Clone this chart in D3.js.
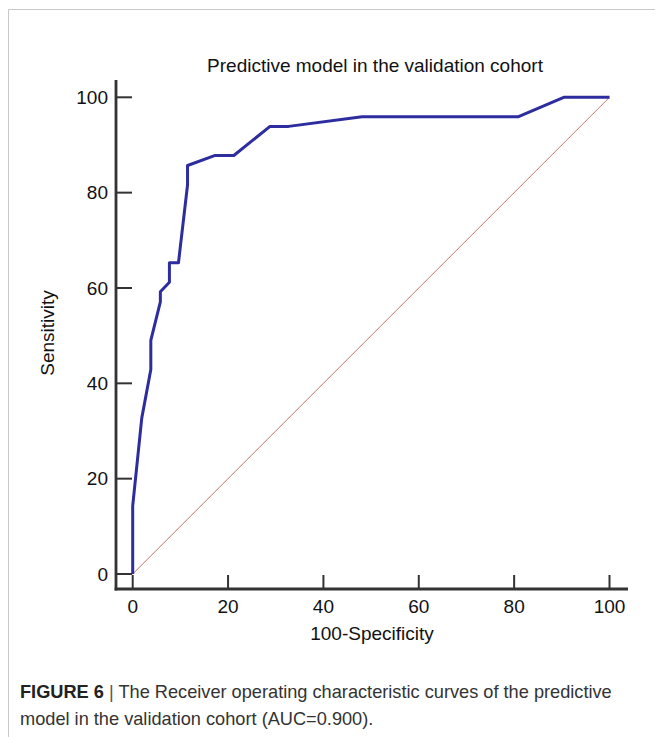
<!DOCTYPE html>
<html>
<head>
<meta charset="utf-8">
<script src="https://cdn.jsdelivr.net/npm/d3@7"></script>
<style>
  body { margin: 0; background: #fff; }
  svg { display: block; font-family: "Liberation Sans", Arial, sans-serif; }
</style>
</head>
<body>
<div class="chart"></div>
<script>
// ROC points (100-specificity, sensitivity)
const fpr = [0, 0, 1.9, 3.8, 3.8, 5.8, 5.8, 7.7, 7.7, 9.6, 11.5, 11.5, 17.3, 21.2, 28.8, 32.7, 48.1, 80.8, 90.4, 100];
const tpr = [0, 14.3, 32.7, 42.9, 49.0, 57.1, 59.2, 61.2, 65.3, 65.3, 81.6, 85.7, 87.8, 87.8, 93.9, 93.9, 95.9, 95.9, 100, 100];
const xTicks = [0, 20, 40, 60, 80, 100];
const yTicks = [0, 20, 40, 60, 80, 100];
const chartTitle = 'Predictive model in the validation cohort';
const xLabel = '100-Specificity';
const yLabel = 'Sensitivity';

const width = 655, height = 737;
const fontSize = 19;

const svg = d3.select('.chart').append('svg')
    .attr('width', width)
    .attr('height', height);

// figure frame (top + left rule)
svg.append('path')
    .attr('d', `M8.5,${height} V9.5 H${width}`)
    .attr('fill', 'none')
    .attr('stroke', '#c8c8c8')
    .attr('stroke-width', 1);

const x = d3.scaleLinear().domain([0, 100]).range([132.7, 609.5]);
const y = d3.scaleLinear().domain([0, 100]).range([574, 97.3]);

const axisX = 116, axisY = 589;
const axisColor = '#333';

// axis lines
svg.append('line')
    .attr('x1', axisX).attr('x2', axisX)
    .attr('y1', 80).attr('y2', axisY + 1.4)
    .attr('stroke', axisColor).attr('stroke-width', 2.8);
svg.append('line')
    .attr('x1', axisX - 1.4).attr('x2', 628)
    .attr('y1', axisY).attr('y2', axisY)
    .attr('stroke', axisColor).attr('stroke-width', 2.8);

// y ticks point inward
const yAxis = svg.append('g');
yAxis.selectAll('line')
    .data(yTicks)
    .enter()
    .append('line')
    .attr('x1', axisX).attr('x2', axisX + 16)
    .attr('y1', d => y(d)).attr('y2', d => y(d))
    .attr('stroke', axisColor).attr('stroke-width', 2);
yAxis.selectAll('text')
    .data(yTicks)
    .enter()
    .append('text')
    .attr('x', axisX - 8)
    .attr('y', d => y(d))
    .attr('dy', '0.35em')
    .attr('text-anchor', 'end')
    .attr('font-size', fontSize)
    .attr('fill', '#111')
    .text(d => d);

// x ticks point inward
const xAxis = svg.append('g');
xAxis.selectAll('line')
    .data(xTicks)
    .enter()
    .append('line')
    .attr('x1', d => x(d)).attr('x2', d => x(d))
    .attr('y1', axisY).attr('y2', axisY - 14)
    .attr('stroke', axisColor).attr('stroke-width', 2);
xAxis.selectAll('text')
    .data(xTicks)
    .enter()
    .append('text')
    .attr('x', d => x(d))
    .attr('y', axisY + 17)
    .attr('dy', '0.35em')
    .attr('text-anchor', 'middle')
    .attr('font-size', fontSize)
    .attr('fill', '#111')
    .text(d => d);

// axis titles
svg.append('text')
    .attr('x', 372).attr('y', 633)
    .attr('dy', '0.35em')
    .attr('text-anchor', 'middle')
    .attr('font-size', fontSize)
    .attr('fill', '#111')
    .text(xLabel);
svg.append('text')
    .attr('transform', 'translate(47,333) rotate(-90)')
    .attr('dy', '0.35em')
    .attr('text-anchor', 'middle')
    .attr('font-size', fontSize)
    .attr('fill', '#111')
    .text(yLabel);

svg.append('text')
    .attr('x', 375).attr('y', 65)
    .attr('dy', '0.35em')
    .attr('text-anchor', 'middle')
    .attr('font-size', fontSize)
    .attr('fill', '#111')
    .text(chartTitle);

// reference diagonal
svg.append('line')
    .attr('x1', x(0)).attr('y1', y(0))
    .attr('x2', x(100)).attr('y2', y(100))
    .attr('stroke', '#c8786c')
    .attr('stroke-width', 1);

// ROC curve
const rocData = fpr.map((d, i) => [d, tpr[i]]);
svg.append('path')
    .datum(rocData)
    .attr('d', d3.line().x(d => x(d[0])).y(d => y(d[1])))
    .attr('fill', 'none')
    .attr('stroke', '#2d2d9f')
    .attr('stroke-width', 3)
    .attr('stroke-linejoin', 'round');

// caption
const cap1 = svg.append('text')
    .attr('x', 20).attr('y', 698)
    .attr('font-size', 18.2)
    .attr('fill', '#333');
cap1.append('tspan').attr('font-weight', 'bold').attr('fill', '#222').text('FIGURE 6');
cap1.append('tspan').attr('fill', '#555').text(' | ');
cap1.append('tspan').text('The Receiver operating characteristic curves of the predictive');
svg.append('text')
    .attr('x', 20).attr('y', 725)
    .attr('font-size', 18.2)
    .attr('fill', '#333')
    .text('model in the validation cohort (AUC=0.900).');
</script>
</body>
</html>
